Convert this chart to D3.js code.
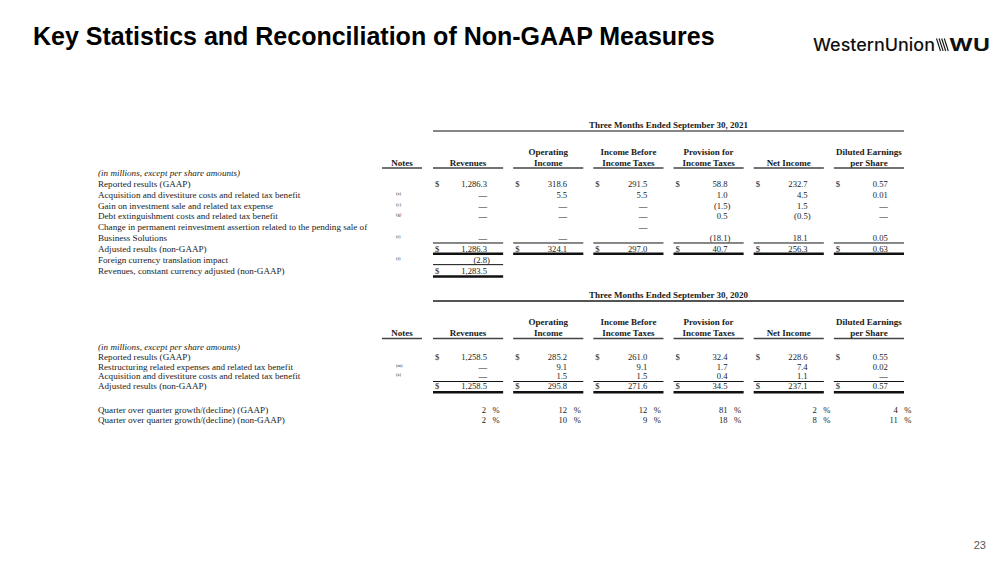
<!DOCTYPE html>
<html><head><meta charset="utf-8">
<script src="https://cdn.jsdelivr.net/npm/d3@7"></script>
<style>body{margin:0;background:#fff}svg{display:block}</style>
</head><body>
<svg id="c" width="1000" height="562"></svg>
<script>
// ---------------- DATA ----------------
const title = "Key Statistics and Reconciliation of Non-GAAP Measures";
const pageNumber = "23";
const colHeads = [["", "Revenues"], ["Operating", "Income"], ["Income Before", "Income Taxes"],
                  ["Provision for", "Income Taxes"], ["", "Net Income"], ["Diluted Earnings", "per Share"]];
const decimals = [1, 1, 1, 1, 1, 2];

const period2021 = "Three Months Ended September 30, 2021";
const labels2021 = [
  "(in millions, except per share amounts)",
  "Reported results (GAAP)",
  "Acquisition and divestiture costs and related tax benefit",
  "Gain on investment sale and related tax expense",
  "Debt extinguishment costs and related tax benefit",
  "Change in permanent reinvestment assertion related to the pending sale of",
  "Business Solutions",
  "Adjusted results (non-GAAP)",
  "Foreign currency translation impact",
  "Revenues, constant currency adjusted (non-GAAP)"
];
const notes2021 = ["", "", "(a)", "(e)", "(g)", "", "(r)", "", "(f)", ""];
const values2021 = [
  [null, null, null, null, null, null],
  [1286.3, 318.6, 291.5, 58.8, 232.7, 0.57],
  ["—", 5.5, 5.5, 1.0, 4.5, 0.01],
  ["—", "—", "—", -1.5, 1.5, "—"],
  ["—", "—", "—", 0.5, -0.5, "—"],
  [null, null, "—", null, null, null],
  ["—", "—", null, -18.1, 18.1, 0.05],
  [1286.3, 324.1, 297.0, 40.7, 256.3, 0.63],
  [-2.8, null, null, null, null, null],
  [1283.5, null, null, null, null, null]
];
const dollarRows2021 = [1, 7, 9];

const period2020 = "Three Months Ended September 30, 2020";
const labels2020 = [
  "(in millions, except per share amounts)",
  "Reported results (GAAP)",
  "Restructuring related expenses and related tax benefit",
  "Acquisition and divestiture costs and related tax benefit",
  "Adjusted results (non-GAAP)",
  "Quarter over quarter growth/(decline) (GAAP)",
  "Quarter over quarter growth/(decline) (non-GAAP)"
];
const notes2020 = ["", "", "(m)", "(a)", "", "", ""];
const values2020 = [
  [null, null, null, null, null, null],
  [1258.5, 285.2, 261.0, 32.4, 228.6, 0.55],
  ["—", 9.1, 9.1, 1.7, 7.4, 0.02],
  ["—", 1.5, 1.5, 0.4, 1.1, "—"],
  [1258.5, 295.8, 271.6, 34.5, 237.1, 0.57]
];
const dollarRows2020 = [1, 4];
const growthGAAP = [2, 12, 12, 81, 2, 4];
const growthNonGAAP = [2, 10, 9, 18, 8, 11];

// ---------------- LAYOUT ----------------
const svg = d3.select("#c");
const serif = "'Liberation Serif','Times New Roman',serif";
const ink = "#1a1a1a";
const fs = 8.6, fsHead = 9, fsLabel = 9.1;

const x = d3.scaleBand().domain(d3.range(6)).range([433, 904]).paddingInner(0.125).paddingOuter(0);
const labelX = 98, noteX = 396, notesCol = [382, 422];
const valRight = 54;
const pctRight = [53, 54, 54, 54, 63, 64];

svg.append("text").attr("x", 33).attr("y", 45)
  .attr("font-family", "'Liberation Sans',Arial,sans-serif").attr("font-weight", "bold")
  .attr("font-size", 25).attr("fill", "#000").text(title);

const logo = svg.append("g");
logo.append("text").attr("x", 813).attr("y", 51)
  .attr("font-family", "Inter,'Noto Sans',sans-serif").attr("font-weight", 500)
  .attr("font-size", 17).attr("fill", "#111")
  .attr("textLength", 122).attr("lengthAdjust", "spacingAndGlyphs").text("WesternUnion");
logo.selectAll("line.s").data(d3.range(4)).join("line")
  .attr("x1", i => 936.5 + i * 2.6).attr("x2", i => 940.5 + i * 2.6)
  .attr("y1", 38.5).attr("y2", 51).attr("stroke", "#111").attr("stroke-width", 1.1);
logo.append("text").attr("x", 949).attr("y", 51)
  .attr("font-family", "Inter,'Noto Sans',sans-serif").attr("font-weight", 700)
  .attr("font-size", 17).attr("fill", "#111")
  .attr("textLength", 41).attr("lengthAdjust", "spacingAndGlyphs").text("WU");

svg.append("text").attr("x", 986).attr("y", 549).attr("text-anchor", "end")
  .attr("font-family", "'Liberation Sans',Arial,sans-serif").attr("font-size", 11)
  .attr("fill", "#595959").text(pageNumber);

function fmt(v, c) {
  if (v === "—") return "—";
  const s = d3.format(`,.${decimals[c]}f`)(Math.abs(v));
  return v < 0 ? `(${s})` : s;
}
function hline(x1, x2, y, w, color) {
  svg.append("line").attr("x1", x1).attr("x2", x2).attr("y1", y).attr("y2", y)
    .attr("stroke", color || "#111").attr("stroke-width", w);
}
function txt(xp, yp, s, opts = {}) {
  return svg.append("text").attr("x", xp).attr("y", yp)
    .attr("font-family", serif).attr("font-size", opts.size || fs)
    .attr("font-weight", opts.bold ? "bold" : null)
    .attr("font-style", opts.italic ? "italic" : null)
    .attr("text-anchor", opts.anchor || "start")
    .attr("fill", ink).text(s);
}

function section(cfg) {
  const { top, period, labels, notes, values, dollarRows, rowY, headerLineW, headerLineColor } = cfg;
  txt((x(0) + x(5) + x.bandwidth()) / 2, top, period, { bold: true, anchor: "middle", size: fsHead });
  hline(x(0), x(5) + x.bandwidth(), top + 3, headerLineW, headerLineColor);
  const h1 = top + cfg.head1, h2 = top + cfg.head2;
  txt((notesCol[0] + notesCol[1]) / 2, h2, "Notes", { bold: true, anchor: "middle", size: fsHead });
  hline(notesCol[0], notesCol[1], h2 + 2.5, 1.5, "#444");
  colHeads.forEach((h, c) => {
    const cx = x(c) + x.bandwidth() / 2;
    if (h[0]) txt(cx, h1, h[0], { bold: true, anchor: "middle", size: fsHead });
    txt(cx, h2, h[1], { bold: true, anchor: "middle", size: fsHead });
    hline(x(c), x(c) + x.bandwidth(), h2 + 2.5, 1.5, "#444");
  });
  labels.forEach((l, r) => {
    const y = rowY(r) + 3;
    txt(labelX, y, l, { italic: r === 0, size: fsLabel });
    if (notes[r]) txt(noteX, y - 3, notes[r], { size: 4.5 });
  });
  values.forEach((row, r) => {
    const y = rowY(r) + 3;
    row.forEach((v, c) => {
      if (v === null) return;
      if (dollarRows.includes(r)) txt(x(c) + 2, y, "$");
      const neg = typeof v === "number" && v < 0;
      txt(x(c) + valRight + (neg ? 2.9 : 0), y, fmt(v, c), { anchor: "end" });
    });
  });
}

// ---- 2021 ----
const y21 = d3.scaleLinear().domain([0, 9]).range([173, 270.7]);
section({
  top: 128, period: period2021, labels: labels2021, notes: notes2021, values: values2021,
  dollarRows: dollarRows2021, rowY: y21, head1: 26.5, head2: 37.5, headerLineW: 1.2, headerLineColor: "#111"
});
d3.range(6).forEach(c => {
  hline(x(c), x(c) + x.bandwidth(), y21(7) - 6, 1);
  hline(x(c), x(c) + x.bandwidth(), y21(7) + 4.8, 2.4);
});
hline(x(0), x(0) + x.bandwidth(), y21(8) + 4.8, 1);
hline(x(0), x(0) + x.bandwidth(), y21(9) + 5.8, 2.4);

// ---- 2020 ----
const rowIdx2020 = [0, 1, 2, 3, 4, 6.5, 7.5];
const y20s = d3.scaleLinear().domain([0, 4]).range([347, 386]);
const y20 = r => y20s(rowIdx2020[r]);
section({
  top: 298, period: period2020, labels: labels2020, notes: notes2020, values: values2020,
  dollarRows: dollarRows2020, rowY: y20, head1: 26.5, head2: 38, headerLineW: 2, headerLineColor: "#555"
});
d3.range(6).forEach(c => {
  hline(x(c), x(c) + x.bandwidth(), y20(4) - 4.5, 1);
  hline(x(c), x(c) + x.bandwidth(), y20(4) + 6.2, 2.4);
});
[growthGAAP, growthNonGAAP].forEach((g, k) => {
  const y = y20(5 + k) + 3;
  g.forEach((v, c) => {
    txt(x(c) + pctRight[c], y, String(v), { anchor: "end" });
    txt(x(c) + pctRight[c] + 6.5, y, "%");
  });
});
</script>
</body></html>
